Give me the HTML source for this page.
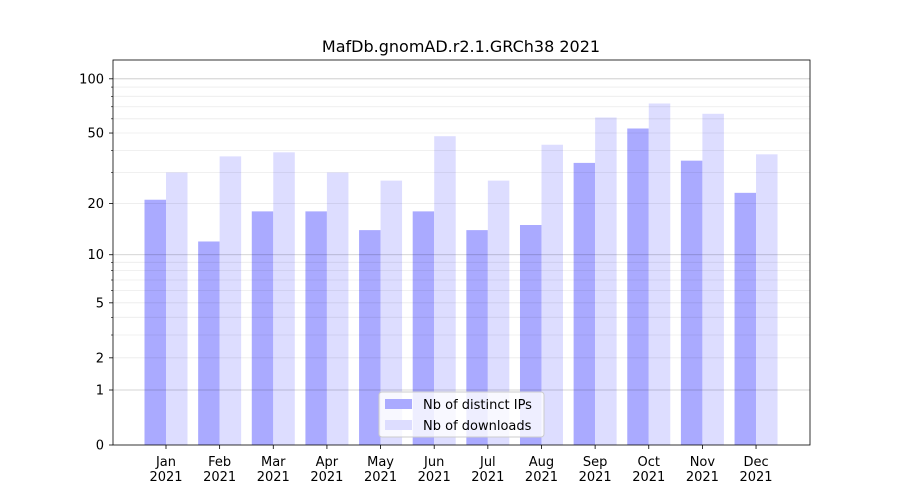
<!DOCTYPE html>
<html><head><meta charset="utf-8"><style>
html,body{margin:0;padding:0;background:#fff;}
svg{display:block;font-family:"DejaVu Sans","Liberation Sans",sans-serif;}
</style></head><body>
<svg id="s" width="900" height="500" xmlns="http://www.w3.org/2000/svg"></svg>
<script>
const s=document.getElementById('s');
const f=v=>445-182.7*Math.log10(1+v);
let h='<rect width="900" height="500" fill="#fff"/>';
h+='<text x="461" y="52" font-size="16" text-anchor="middle">MafDb.gnomAD.r2.1.GRCh38 2021</text>';
const d=[[21,30],[12,37],[18,39],[18,30],[14,27],[18,48],[14,27],[15,43],[34,61],[53,73],[35,64],[23,38]];
const m=['Jan','Feb','Mar','Apr','May','Jun','Jul','Aug','Sep','Oct','Nov','Dec'];
d.forEach((p,i)=>{const c=166+53.64*i;
h+=`<rect x="${c-21.5}" y="${f(p[0])}" width="21.5" height="${445-f(p[0])}" fill="#aaaaff"/>`;
h+=`<rect x="${c}" y="${f(p[1])}" width="21.5" height="${445-f(p[1])}" fill="#ddddff"/>`;
h+=`<line x1="${c}" x2="${c}" y1="445" y2="449" stroke="#000" stroke-width="0.8"/>`;
h+=`<text x="${c}" y="466" font-size="13" text-anchor="middle">${m[i]}</text><text x="${c}" y="481" font-size="13" text-anchor="middle">2021</text>`;});
[2,3,4,5,6,7,8,9,20,30,40,50,60,70,80,90].forEach(v=>{h+=`<line x1="113" x2="810" y1="${f(v)}" y2="${f(v)}" stroke="#000" stroke-opacity="0.08" stroke-width="0.8"/>`;});
[1,10,100].forEach(v=>{h+=`<line x1="113" x2="810" y1="${f(v)}" y2="${f(v)}" stroke="#000" stroke-opacity="0.22" stroke-width="0.8"/>`;});
[[0,'0'],[1,'1'],[2,'2'],[5,'5'],[10,'10'],[20,'20'],[50,'50'],[100,'100']].forEach(([v,t])=>{const y=f(v);
h+=`<line x1="109" x2="113" y1="${y}" y2="${y}" stroke="#000" stroke-width="0.8"/><text x="104" y="${y+4.5}" font-size="13" text-anchor="end">${t}</text>`;});
[3,4,6,7,8,9,30,40,60,70,80,90].forEach(v=>{const y=f(v);h+=`<line x1="111" x2="113" y1="${y}" y2="${y}" stroke="#000" stroke-width="0.6"/>`;});
h+='<rect x="113" y="60" width="697" height="385" fill="none" stroke="#000" stroke-width="0.8"/>';
h+='<rect x="379" y="392" width="165" height="45" rx="3" fill="#fff" fill-opacity="0.8" stroke="#ccc"/>';
h+='<rect x="385" y="399" width="27" height="10" fill="#aaaaff"/><text x="423" y="409" font-size="13">Nb of distinct IPs</text>';
h+='<rect x="385" y="420" width="27" height="10" fill="#ddddff"/><text x="423" y="430" font-size="13">Nb of downloads</text>';
s.innerHTML=h;
</script>
</body></html>
